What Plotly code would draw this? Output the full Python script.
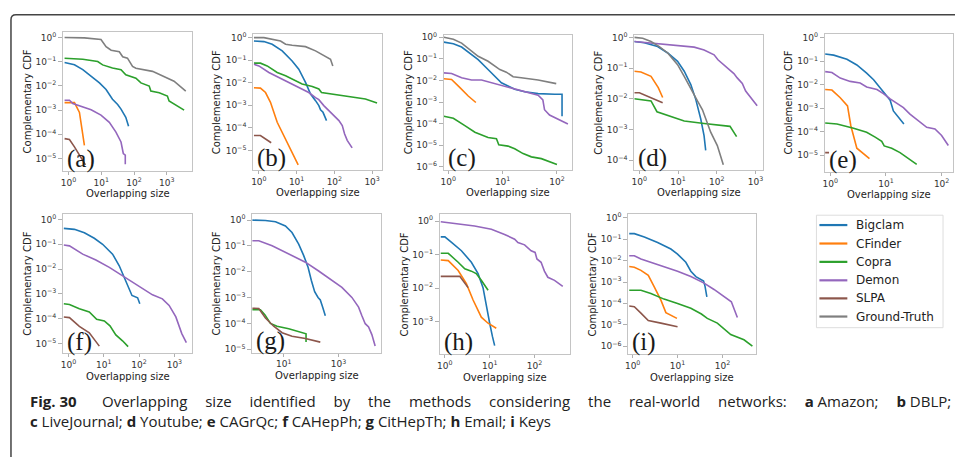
import plotly.graph_objects as go

W, H = 955, 457
COLORS = {"Bigclam": "#1f77b4", "CFinder": "#ff7f0e", "Copra": "#2ca02c",
          "Demon": "#9467bd", "SLPA": "#8c564b", "Ground-Truth": "#7f7f7f"}
LEGEND_ORDER = ["Bigclam", "CFinder", "Copra", "Demon", "SLPA", "Ground-Truth"]

# ---------------- (a) Amazon ----------------
A_BIG_X = [0.76, 1.52, 2.73, 5.5, 8.8, 14, 22, 31.6, 40, 56, 68]
A_BIG_Y = [0.093, 0.075, 0.047, 0.021, 0.0133, 0.0071, 0.0028, 0.0017, 0.0011, 0.0005, 0.000214]
A_CF_X = [0.76, 1.52, 2.16, 3.06]
A_CF_Y = [0.00204, 0.00204, 0.0008, 3.5e-5]
A_COPRA_X = [0.76, 2.73, 7.8, 11, 22, 40, 56, 114, 162, 290, 325, 585, 1040, 1170, 3370]
A_COPRA_Y = [0.139, 0.127, 0.102, 0.074, 0.055, 0.047, 0.029, 0.021, 0.0133, 0.0098, 0.0061, 0.0052, 0.0038, 0.0024, 0.001]
A_DEM_X = [0.76, 1.07, 1.35, 3.06, 4.9, 9.8, 17.6, 28, 40, 47, 54, 54]
A_DEM_Y = [0.00254, 0.00254, 0.00186, 0.00128, 0.00103, 0.00062, 0.00031, 0.000123, 4.8e-5, 1.6e-5, 1.37e-5, 5.7e-6]
A_SLPA_X = [0.76, 1.07, 1.52, 2.43, 3.29]
A_SLPA_Y = [6.6e-5, 6.1e-5, 3.0e-5, 1.0e-5, 5.4e-6]
A_GT_X = [0.76, 3.06, 9.8, 14, 20, 35.5, 45, 63, 90, 114, 366, 736, 1660, 3780]
A_GT_Y = [1.0, 0.97, 0.83, 0.42, 0.30, 0.26, 0.16, 0.14, 0.064, 0.054, 0.040, 0.0265, 0.0156, 0.0061]

# ---------------- (b) DBLP ----------------
B_BIG_X = [0.74, 1.36, 2.25, 4.15, 7.6, 11.4, 17.2, 23.4, 31.7, 38.8, 43, 50, 62]
B_BIG_Y = [0.71, 0.67, 0.51, 0.26, 0.093, 0.040, 0.0104, 0.00316, 0.00161, 0.00097, 0.00064, 0.00049, 0.00021]
B_CF_X = [0.74, 1.1, 1.5, 2.03, 3.06, 5.1, 7.6, 11]
B_CF_Y = [0.006, 0.0058, 0.0037, 0.00136, 0.000178, 3.3e-5, 8.5e-6, 2.3e-6]
B_COPRA_X = [0.74, 1.1, 1.66, 3.06, 5.1, 9.3, 14, 26, 38.8, 45.6, 87, 241, 665, 1350]
B_COPRA_Y = [0.074, 0.074, 0.056, 0.0286, 0.0204, 0.0123, 0.0088, 0.0069, 0.0053, 0.0037, 0.0032, 0.0025, 0.0019, 0.00127]
B_DEM_X = [0.74, 1.0, 1.84, 4.15, 7.6, 14, 21, 31.7, 38.8, 52.5, 87, 132, 162, 186, 219, 296]
B_DEM_Y = [0.066, 0.056, 0.0286, 0.0145, 0.0088, 0.0053, 0.0037, 0.0022, 0.00178, 0.00097, 0.00042, 0.00021, 0.000126, 5.5e-5, 2.8e-5, 1.3e-5]
B_SLPA_X = [0.74, 1.1, 2.12]
B_SLPA_Y = [4.6e-5, 4.6e-5, 2.2e-5]
B_GT_X = [0.74, 1.36, 3.75, 5.1, 7.6, 17.2, 31.7, 52.5, 79, 91]
B_GT_Y = [1.0, 1.0, 0.71, 0.51, 0.46, 0.40, 0.26, 0.155, 0.111, 0.056]

# ---------------- (c) LiveJournal ----------------
C_BIG_X = [0.83, 1.24, 1.76, 2.5, 3.55, 5.4, 7.2, 9.5, 12.6, 16.7, 25.5, 45, 91, 124, 124]
C_BIG_Y = [0.59, 0.50, 0.35, 0.185, 0.092, 0.0318, 0.0158, 0.0078, 0.0055, 0.0039, 0.0030, 0.00245, 0.0023, 0.0023, 0.00022]
C_CF_X = [0.83, 1.15, 1.64, 2.33, 3.22]
C_CF_Y = [0.012, 0.0111, 0.0046, 0.0019, 0.00095]
C_COPRA_X = [0.83, 1.24, 2.02, 3.09, 5.4, 7.7, 8.5, 12.6, 16.7, 23.8, 33.8, 51.6, 100]
C_COPRA_Y = [0.00022, 0.000176, 8.1e-5, 4.0e-5, 2.3e-5, 2.0e-5, 1.05e-5, 9.1e-6, 6.9e-6, 4.1e-6, 2.9e-6, 2.4e-6, 1.28e-6]
C_DEM_X = [0.83, 1.15, 1.76, 2.68, 4.1, 6.2, 11, 16.7, 29.4, 45, 55, 59, 73, 104, 159]
C_DEM_Y = [0.0224, 0.021, 0.0132, 0.0104, 0.0104, 0.0078, 0.0055, 0.0042, 0.00272, 0.00205, 0.00126, 0.00044, 0.00025, 0.000163, 9.7e-5]
C_GT_X = [0.83, 1.24, 1.76, 2.5, 3.55, 5.4, 7.2, 8.9, 11.7, 15.6, 22, 45, 97]
C_GT_Y = [1.0, 0.81, 0.53, 0.263, 0.13, 0.077, 0.0457, 0.0317, 0.024, 0.0148, 0.0132, 0.0104, 0.0071]

# ---------------- (d) Youtube ----------------
D_BIG_X = [0.74, 1.34, 2.96, 5.4, 9.7, 14.4, 21.3, 28.6, 38.5, 46.8, 51.6]
D_BIG_Y = [0.73, 0.67, 0.50, 0.31, 0.165, 0.079, 0.029, 0.0096, 0.0022, 0.00063, 0.00021]
D_CF_X = [0.74, 1.1, 2.0, 3.08, 4.0]
D_CF_Y = [0.079, 0.075, 0.054, 0.023, 0.011]
D_COPRA_X = [0.74, 2.0, 2.85, 6.5, 14.4, 47, 187, 219, 324]
D_COPRA_Y = [0.0101, 0.0085, 0.0038, 0.0027, 0.0019, 0.00158, 0.00134, 0.00127, 0.00059]
D_DEM_X = [0.74, 1.64, 6.5, 26, 47, 85, 107, 153, 276, 336, 455, 555, 742, 1100]
D_DEM_Y = [0.73, 0.67, 0.57, 0.48, 0.39, 0.27, 0.186, 0.129, 0.066, 0.048, 0.0316, 0.0178, 0.011, 0.0059]
D_SLPA_X = [0.74, 1.0, 4.0]
D_SLPA_Y = [0.0158, 0.0158, 0.0075]
D_GT_X = [0.74, 1.22, 2.0, 3.27, 5.4, 9.7, 14.4, 21.3, 31.6, 42.6, 57, 69.5, 103, 147]
D_GT_Y = [1.0, 0.93, 0.73, 0.50, 0.31, 0.129, 0.054, 0.0203, 0.0085, 0.0044, 0.0017, 0.00082, 0.0003, 7.2e-5]

# ---------------- (e) CAGrQc ----------------
E_BIG_X = [0.81, 1.15, 1.99, 3.0, 4.5, 6.0, 7.9, 10, 11.9, 13.6, 15.6, 21]
E_BIG_Y = [0.20, 0.18, 0.12, 0.069, 0.031, 0.0163, 0.0073, 0.0038, 0.0022, 0.00077, 0.0005, 0.000213]
E_CF_X = [0.81, 1.07, 1.51, 2.04, 2.34, 3.0, 5.06]
E_CF_Y = [0.0062, 0.0059, 0.0028, 0.00125, 0.00018, 2.0e-5, 7.3e-6]
E_COPRA_X = [0.81, 1.32, 2.62, 4.5, 6.4, 8.4, 9.3, 12.7, 17.9, 35.7]
E_COPRA_Y = [0.000234, 0.000213, 0.00014, 9.5e-5, 5.9e-5, 3.9e-5, 2.5e-5, 2.0e-5, 1.3e-5, 4.1e-6]
E_DEM_X = [0.81, 1.07, 1.51, 2.28, 3.44, 4.5, 6.9, 9.0, 11.9, 15.6, 20.6, 27, 41, 54, 76, 100, 132]
E_DEM_Y = [0.036, 0.033, 0.019, 0.0138, 0.0118, 0.008, 0.0062, 0.0042, 0.0025, 0.0017, 0.00106, 0.00056, 0.00025, 0.000154, 0.000131, 6.9e-5, 2.6e-5]
E_SLPA_X = [0.81, 0.95]
E_SLPA_Y = [1.3e-5, 1.3e-5]

# ---------------- (f) CAHepPh ----------------
F_BIG_X = [0.74, 1.48, 2.83, 5.4, 9.3, 17.8, 27.5, 38, 50, 63, 91, 105]
F_BIG_Y = [0.437, 0.40, 0.29, 0.174, 0.1, 0.04, 0.0136, 0.0047, 0.00186, 0.00086, 0.00069, 0.0004]
F_COPRA_X = [0.74, 1.07, 2.04, 3.9, 6.3, 10.4, 15, 22, 34, 49]
F_COPRA_Y = [0.0004, 0.00037, 0.00025, 0.000185, 9.4e-5, 8.1e-5, 5.1e-5, 2.2e-5, 1.28e-5, 7.4e-6]
F_DEM_X = [0.74, 1.07, 2.54, 6.0, 14.4, 34, 81, 156, 240, 457, 710, 1100, 1620, 2180]
F_DEM_Y = [0.094, 0.086, 0.040, 0.023, 0.0117, 0.0054, 0.0025, 0.00145, 0.00091, 0.00063, 0.00034, 0.000117, 2.5e-5, 1.07e-5]
F_SLPA_X = [0.74, 1.07, 2.04, 3.9, 7.5]
F_SLPA_Y = [0.000117, 0.00011, 4.9e-5, 2.7e-5, 7.8e-6]

# ---------------- (g) CitHepTh ----------------
G_BIG_X = [0.71, 2.15, 5.0, 11.5, 20, 35, 53, 77, 101, 134, 178, 215, 261, 328]
G_BIG_Y = [1.0, 0.97, 0.86, 0.59, 0.33, 0.118, 0.043, 0.015, 0.0047, 0.0017, 0.00102, 0.00081, 0.00043, 0.0002]
G_COPRA_X = [0.71, 1.41, 2.04, 3.27, 5.7, 15.2, 65, 65]
G_COPRA_Y = [0.00034, 0.00034, 0.00022, 0.0001, 7.8e-5, 6.2e-5, 4.0e-5, 1.9e-5]
G_DEM_X = [0.71, 1.23, 3.77, 15.2, 61.5, 187, 573, 1320, 3050, 5350, 7070, 9350, 12400, 16300, 21500]
G_DEM_Y = [0.158, 0.158, 0.102, 0.049, 0.0235, 0.0107, 0.0047, 0.0025, 0.00102, 0.00043, 0.0002, 9.8e-5, 7.4e-5, 3.7e-5, 1.35e-5]
G_SLPA_X = [0.71, 1.23, 2.15, 4.3, 8.7, 20, 61.5, 215]
G_SLPA_Y = [0.00039, 0.00038, 0.000162, 7.8e-5, 4.4e-5, 3.2e-5, 2.6e-5, 1.9e-5]

# ---------------- (h) Email ----------------
H_BIG_X = [0.81, 1.0, 1.41, 2.34, 3.9, 5.5, 7.1, 8.4, 10, 11.5, 12.9]
H_BIG_Y = [0.337, 0.337, 0.23, 0.13, 0.059, 0.027, 0.0103, 0.00276, 0.00089, 0.00036, 0.00019]
H_CF_X = [0.81, 1.19, 1.98, 3.02, 4.26, 6.5, 9.2, 14]
H_CF_Y = [0.069, 0.066, 0.0335, 0.0135, 0.0044, 0.00135, 0.00089, 0.00063]
H_COPRA_X = [0.81, 1.19, 1.98, 2.78, 3.9, 5.0, 6.5, 9.2]
H_COPRA_Y = [0.109, 0.109, 0.059, 0.0376, 0.032, 0.027, 0.017, 0.0086]
H_DEM_X = [0.81, 1.98, 4.6, 10.9, 21.5, 36, 42.6, 60, 84, 103, 113, 140, 166, 198, 279, 426]
H_DEM_Y = [0.955, 0.83, 0.71, 0.57, 0.40, 0.288, 0.23, 0.195, 0.13, 0.116, 0.074, 0.059, 0.032, 0.021, 0.017, 0.0112]
H_SLPA_X = [0.81, 2.15, 3.3]
H_SLPA_Y = [0.0223, 0.0223, 0.0103]

# ---------------- (i) Keys ----------------
I_BIG_X = [0.84, 1.09, 1.82, 3.6, 7.1, 10, 15.3, 19.8, 25.6, 33, 38, 41, 45]
I_BIG_Y = [0.183, 0.183, 0.128, 0.07, 0.035, 0.0203, 0.0084, 0.0032, 0.0018, 0.00128, 0.00111, 0.00063, 0.0002]
I_CF_X = [0.84, 1.09, 1.53, 2.23, 3.03, 4.26, 5.5, 9.7]
I_CF_Y = [0.0053, 0.0049, 0.0035, 0.00204, 0.00059, 0.000142, 3.7e-5, 2.0e-5]
I_COPRA_X = [0.84, 1.53, 2.55, 5.0, 10, 19.8, 34, 46, 77, 109, 153, 302, 465]
I_COPRA_Y = [0.00041, 0.00041, 0.00029, 0.000159, 0.0001, 5.9e-5, 3.2e-5, 2.0e-5, 1.2e-5, 6.3e-6, 3.5e-6, 2.0e-6, 1.0e-6]
I_DEM_X = [0.84, 1.09, 1.53, 2.55, 5.0, 10, 19.8, 39, 65, 109, 158, 215]
I_DEM_Y = [0.017, 0.017, 0.012, 0.0084, 0.0049, 0.0032, 0.0018, 0.00089, 0.00045, 0.0002, 0.00012, 2.2e-5]
I_SLPA_X = [0.84, 1.09, 1.53, 2.23, 4.26, 10]
I_SLPA_Y = [7.6e-5, 7.0e-5, 3.5e-5, 1.6e-5, 1.2e-5, 8.1e-6]

X_TITLE = "Overlapping size"
Y_TITLE = "Complementary CDF"
CAPTION_1_WORDS = ["<b>Fig.\u00a030</b>\u2002", "Overlapping", "size", "identified", "by", "the", "methods",
                   "considering", "the", "real-world", "networks:", "<b>a</b>\u00a0Amazon;", "<b>b</b>\u00a0DBLP;"]
CAPTION_2 = ("<b>c</b> LiveJournal; <b>d</b> Youtube; <b>e</b> CAGrQc; <b>f</b> CAHepPh; "
             "<b>g</b> CitHepTh; <b>h</b> Email; <b>i</b> Keys")

# panel layout: pixel box (left, right, top, bottom), log ranges, tick decades
PANELS = [
    dict(tag="(a)", box=(60.3, 190, 28, 169), xr=(-0.164, 3.78), yr=(-5.51, 0.245),
         xt=[0, 1, 2, 3], yt=[0, -1, -2, -3, -4, -5],
         series=[("Bigclam", A_BIG_X, A_BIG_Y), ("CFinder", A_CF_X, A_CF_Y), ("Copra", A_COPRA_X, A_COPRA_Y),
                 ("Demon", A_DEM_X, A_DEM_Y), ("SLPA", A_SLPA_X, A_SLPA_Y), ("Ground-Truth", A_GT_X, A_GT_Y)]),
    dict(tag="(b)", box=(251, 380.5, 30, 168.5), xr=(-0.15, 3.27), yr=(-5.88, 0.18),
         xt=[0, 1, 2, 3], yt=[0, -1, -2, -3, -4, -5],
         series=[("Bigclam", B_BIG_X, B_BIG_Y), ("CFinder", B_CF_X, B_CF_Y), ("Copra", B_COPRA_X, B_COPRA_Y),
                 ("Demon", B_DEM_X, B_DEM_Y), ("SLPA", B_SLPA_X, B_SLPA_Y), ("Ground-Truth", B_GT_X, B_GT_Y)]),
    dict(tag="(c)", box=(442.3, 570.7, 31, 168.3), xr=(-0.08, 2.275), yr=(-6.15, 0.12),
         xt=[0, 1, 2], yt=[0, -1, -2, -3, -4, -5, -6],
         series=[("Bigclam", C_BIG_X, C_BIG_Y), ("CFinder", C_CF_X, C_CF_Y), ("Copra", C_COPRA_X, C_COPRA_Y),
                 ("Demon", C_DEM_X, C_DEM_Y), ("Ground-Truth", C_GT_X, C_GT_Y)]),
    dict(tag="(d)", box=(633.3, 762.7, 31, 168.3), xr=(-0.13, 3.2), yr=(-4.32, 0.09),
         xt=[0, 1, 2, 3], yt=[0, -1, -2, -3, -4],
         series=[("Bigclam", D_BIG_X, D_BIG_Y), ("CFinder", D_CF_X, D_CF_Y), ("Copra", D_COPRA_X, D_COPRA_Y),
                 ("Demon", D_DEM_X, D_DEM_Y), ("SLPA", D_SLPA_X, D_SLPA_Y), ("Ground-Truth", D_GT_X, D_GT_Y)]),
    dict(tag="(e)", box=(824.3, 953.3, 30, 170), xr=(-0.10, 2.21), yr=(-5.70, 0.17),
         xt=[0, 1, 2], yt=[0, -1, -2, -3, -4, -5],
         series=[("Bigclam", E_BIG_X, E_BIG_Y), ("CFinder", E_CF_X, E_CF_Y), ("Copra", E_COPRA_X, E_COPRA_Y),
                 ("Demon", E_DEM_X, E_DEM_Y), ("SLPA", E_SLPA_X, E_SLPA_Y)]),
    dict(tag="(f)", box=(60.3, 190, 212.3, 354), xr=(-0.15, 3.51), yr=(-5.4, 0.24),
         xt=[0, 1, 2, 3], yt=[0, -1, -2, -3, -4, -5],
         series=[("Bigclam", F_BIG_X, F_BIG_Y), ("Copra", F_COPRA_X, F_COPRA_Y),
                 ("Demon", F_DEM_X, F_DEM_Y), ("SLPA", F_SLPA_X, F_SLPA_Y)]),
    dict(tag="(g)", box=(250, 379.3, 212.7, 353.3), xr=(-0.15, 4.55), yr=(-5.13, 0.24),
         xt=[1, 3], yt=[0, -1, -2, -3, -4, -5],
         series=[("Bigclam", G_BIG_X, G_BIG_Y), ("Copra", G_COPRA_X, G_COPRA_Y),
                 ("Demon", G_DEM_X, G_DEM_Y), ("SLPA", G_SLPA_X, G_SLPA_Y)]),
    dict(tag="(h)", box=(438.3, 568.3, 213.3, 355), xr=(-0.11, 2.78), yr=(-3.98, 0.197),
         xt=[0, 1, 2], yt=[0, -1, -2, -3],
         series=[("Bigclam", H_BIG_X, H_BIG_Y), ("CFinder", H_CF_X, H_CF_Y), ("Copra", H_COPRA_X, H_COPRA_Y),
                 ("Demon", H_DEM_X, H_DEM_Y), ("SLPA", H_SLPA_X, H_SLPA_Y)]),
    dict(tag="(i)", box=(627.3, 755.7, 212.7, 355), xr=(-0.096, 2.755), yr=(-6.38, 0.185),
         xt=[0, 1, 2], yt=[0, -1, -2, -3, -4, -5, -6],
         series=[("Bigclam", I_BIG_X, I_BIG_Y), ("CFinder", I_CF_X, I_CF_Y), ("Copra", I_COPRA_X, I_COPRA_Y),
                 ("Demon", I_DEM_X, I_DEM_Y), ("SLPA", I_SLPA_X, I_SLPA_Y)]),
]


def px(x):
    return x / W


def py(y):
    return 1 - y / H


def pow_label(p):
    s = str(p) if p >= 0 else "\u2212" + str(-p)
    return "10<sup>" + s + "</sup>"


TICK_FONT = dict(family="DejaVu Sans", size=9, color="#333333")
LABEL_FONT = dict(family="DejaVu Sans", size=10, color="#222222")

fig = go.Figure()
layout = dict(width=W, height=H, margin=dict(l=0, r=0, t=0, b=0),
              paper_bgcolor="white", plot_bgcolor="white", showlegend=False)
annotations = []
shapes = []

for i, p in enumerate(PANELS):
    n = "" if i == 0 else str(i + 1)
    L, R, T, B = p["box"]
    xa = dict(type="log", domain=[px(L), px(R)], range=list(p["xr"]), anchor="y" + n,
              showgrid=False, zeroline=False, showline=True, mirror=True,
              linecolor="#c4c4c4", linewidth=1, ticks="outside", ticklen=3, tickcolor="#b0b0b0",
              tickvals=[10 ** k for k in p["xt"]], ticktext=[pow_label(k) for k in p["xt"]],
              tickfont=TICK_FONT)
    ya = dict(type="log", domain=[py(B), py(T)], range=list(p["yr"]), anchor="x" + n,
              showgrid=False, zeroline=False, showline=True, mirror=True,
              linecolor="#c4c4c4", linewidth=1, ticks="outside", ticklen=4, tickcolor="#b0b0b0",
              tickvals=[10 ** k for k in p["yt"]], ticktext=[pow_label(k) for k in p["yt"]],
              tickfont=TICK_FONT)
    layout["xaxis" + n] = xa
    layout["yaxis" + n] = ya
    for name, xs, ys in p["series"]:
        fig.add_trace(go.Scatter(x=xs, y=ys, mode="lines", name=name,
                                 line=dict(color=COLORS[name], width=1.6),
                                 xaxis="x" + n, yaxis="y" + n, hoverinfo="skip"))
    # panel tag
    annotations.append(dict(text=p["tag"], xref="x" + n + " domain", yref="y" + n + " domain",
                            x=0, y=12 / (B - T), xanchor="left", yanchor="middle", xshift=2,
                            showarrow=False, font=dict(family="Liberation Serif", size=25, color="#1a1a1a")))
    # axis titles
    annotations.append(dict(text=X_TITLE, xref="paper", yref="paper", x=px((L + R) / 2), y=py(B + 23),
                            xanchor="center", yanchor="middle", showarrow=False, font=LABEL_FONT))
    annotations.append(dict(text=Y_TITLE, xref="paper", yref="paper", x=px(L - 36), y=py((T + B) / 2),
                            xanchor="center", yanchor="middle", textangle=-90, showarrow=False,
                            font=LABEL_FONT))

# legend panel (drawn manually)
LEG_BOX = (816, 943, 214, 328)
shapes.append(dict(type="rect", xref="paper", yref="paper", x0=px(LEG_BOX[0]), x1=px(LEG_BOX[1]),
                   y0=py(LEG_BOX[3]), y1=py(LEG_BOX[2]), line=dict(color="#dddddd", width=1),
                   fillcolor="white", layer="below"))
LEG_ROWS = [224, 242.7, 261.3, 280, 298.3, 316.7]
for name, yy in zip(LEGEND_ORDER, LEG_ROWS):
    shapes.append(dict(type="line", xref="paper", yref="paper", x0=px(819), x1=px(847),
                       y0=py(yy), y1=py(yy), line=dict(color=COLORS[name], width=2.2)))
    annotations.append(dict(text=name, xref="paper", yref="paper", x=px(854), y=py(yy),
                            xanchor="left", yanchor="middle", showarrow=False,
                            font=dict(family="DejaVu Sans", size=12, color="#222222")))

# outer frame (rounded top-left corner)
x0, yt, r = 8, 11, 5
frame_path = (f"M {px(x0)},{py(470)} L {px(x0)},{py(yt + r)} "
              f"Q {px(x0)},{py(yt)} {px(x0 + r)},{py(yt)} L {px(970)},{py(yt)}")
shapes.append(dict(type="path", xref="paper", yref="paper", path=frame_path,
                   line=dict(color="#444444", width=1.5)))

# caption (first line justified to the full text width, like the journal layout)
CAP_FONT = dict(family="Open Sans", size=15, color="#222222")
GAP = " \u2002\u2009\u2009\u200a"
caption = GAP.join(CAPTION_1_WORDS) + "<br>" + CAPTION_2
annotations.append(dict(text=caption, xref="paper", yref="paper", x=px(26), y=py(412.5),
                        xanchor="left", yanchor="middle", align="left", showarrow=False,
                        borderpad=0, font=CAP_FONT))

layout["annotations"] = annotations
layout["shapes"] = shapes
fig.update_layout(**layout)
fig.write_html("out.html")
